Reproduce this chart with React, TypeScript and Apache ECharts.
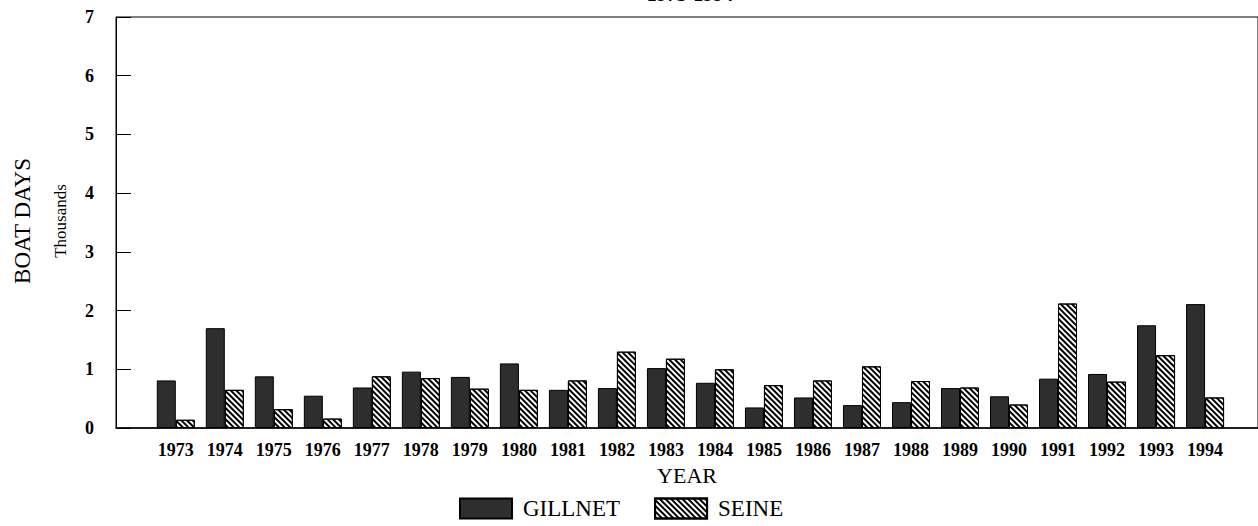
import React, { useEffect, useRef } from "react";
import * as echarts from "echarts";

const years = [1973,1974,1975,1976,1977,1978,1979,1980,1981,1982,1983,1984,1985,1986,1987,1988,1989,1990,1991,1992,1993,1994];
const gillnet = [0.81,1.70,0.88,0.55,0.69,0.96,0.87,1.10,0.65,0.68,1.02,0.77,0.35,0.52,0.39,0.44,0.68,0.54,0.84,0.92,1.75,2.11];
const seine = [0.14,0.65,0.32,0.16,0.88,0.85,0.67,0.65,0.81,1.30,1.18,1.00,0.73,0.81,1.05,0.80,0.69,0.40,2.12,0.79,1.24,0.52];
const yTicks = [0,1,2,3,4,5,6,7];

const SERIF = "Liberation Serif";

export default function App() {
  const ref = useRef<HTMLDivElement>(null);
  useEffect(() => {
    if (!ref.current) return;
    const chart = echarts.init(ref.current, null, { renderer: "svg" });
    chart.setOption({
      animation: false,
      backgroundColor: "#fff",
      grid: { left: 116, right: 0, top: 17, bottom: 98, show: true, borderColor: "#000", borderWidth: 1, backgroundColor: "transparent" },
      xAxis: {
        type: "value",
        min: 1971.78,
        max: 1995.08,
        splitLine: { show: false },
        axisLine: { show: true, lineStyle: { color: "#000", width: 1.5 } },
        axisTick: { show: false },
        axisLabel: {
          customValues: years,
          formatter: (v: number) => String(Math.round(v)),
          fontFamily: SERIF, fontWeight: "bold", fontSize: 18, color: "#000", margin: 13,
        },
        name: "YEAR",
        nameLocation: "middle",
        nameGap: 36,
        nameTextStyle: { fontFamily: SERIF, fontSize: 22, color: "#000" },
      },
      yAxis: {
        type: "value",
        min: 0, max: 7, interval: 1,
        splitLine: { show: false },
        axisLine: { show: true, lineStyle: { color: "#000", width: 1 } },
        axisTick: { show: true, inside: true, length: 15, lineStyle: { color: "#000" } },
        axisLabel: {
          customValues: yTicks,
          fontFamily: SERIF, fontWeight: "bold", fontSize: 18, color: "#000", margin: 22,
        },
      },
      legend: {
        left: 459, top: 497, padding: 0,
        itemWidth: 52, itemHeight: 20, itemGap: 34,
        icon: "rect",
        textStyle: { fontFamily: SERIF, fontSize: 23, color: "#000", padding: [0, 0, 0, 6] },
        data: ["GILLNET", "SEINE"],
      },
      graphic: [
        { type: "text", style: { text: "BOAT DAYS", font: "23px " + SERIF, fill: "#000", align: "center", verticalAlign: "middle" }, x: 22, y: 221, rotation: Math.PI / 2 },
        { type: "text", style: { text: "Thousands", font: "17px " + SERIF, fill: "#000", align: "center", verticalAlign: "middle" }, x: 60, y: 221, rotation: Math.PI / 2 },
        { type: "text", style: { text: "1973-1994", font: "bold 20px " + SERIF, fill: "#000", align: "center", verticalAlign: "bottom" }, x: 690, y: 4 },
      ],
      series: [
        {
          name: "GILLNET", type: "bar", barWidth: 19, barGap: "0%",
          data: years.map((y, i) => [y, gillnet[i]]),
          itemStyle: { color: "#2e2e2e", borderColor: "#000", borderWidth: 1 },
        },
        {
          name: "SEINE", type: "bar", barWidth: 19, barGap: "0%",
          data: years.map((y, i) => [y, seine[i]]),
          itemStyle: {
            color: "#fff", borderColor: "#000", borderWidth: 1,
            decal: { symbol: "rect", symbolSize: 1, dashArrayX: [1, 0], dashArrayY: [1.5, 1.8], rotation: Math.PI / 4, color: "#000" },
          },
        },
      ],
    });
    return () => chart.dispose();
  }, []);
  return <div ref={ref} style={{ position: "fixed", left: 0, top: 0, width: 1258, height: 526 }} />;
}
